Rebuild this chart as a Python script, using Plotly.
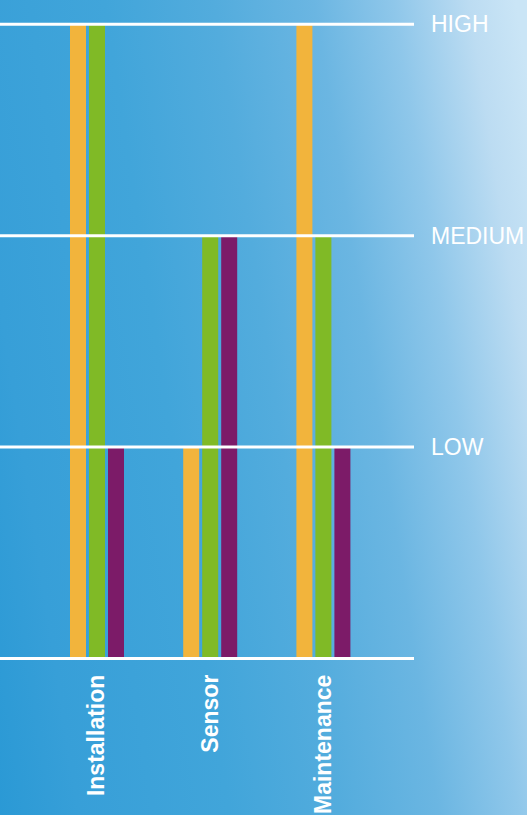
import base64
import plotly.graph_objects as go

categories = ["Installation", "Sensor", "Maintenance"]
series_names = ["Series A", "Series B", "Series C"]
series_values = {
    "Series A": [3, 1, 3],
    "Series B": [3, 2, 2],
    "Series C": [1, 2, 1],
}
series_colors = {
    "Series A": "#f2b43c",
    "Series B": "#80ba26",
    "Series C": "#7c1b68",
}
level_values = [0, 1, 2, 3]
level_labels = ["", "LOW", "MEDIUM", "HIGH"]

W, H = 527, 815
PLOT_RIGHT = 414

# background gradient as an SVG image
stops = [
    (0.00, (42, 153, 213)),
    (0.125, (55, 159, 216)),
    (0.359, (65, 165, 218)),
    (0.530, (83, 172, 221)),
    (0.686, (107, 182, 226)),
    (0.810, (143, 199, 234)),
    (0.927, (188, 220, 242)),
    (1.00, (202, 229, 246)),
]
stop_xml = "".join(
    f'<stop offset="{o}" stop-color="rgb({c[0]},{c[1]},{c[2]})"/>' for o, c in stops
)
svg = (
    f'<svg xmlns="http://www.w3.org/2000/svg" width="{W}" height="{H}" viewBox="0 0 {W} {H}" preserveAspectRatio="none">'
    f'<defs><linearGradient id="g" gradientUnits="userSpaceOnUse" x1="-123.6" y1="18.9" x2="504.1" y2="-77.2">'
    f'{stop_xml}</linearGradient></defs>'
    f'<rect x="0" y="0" width="{W}" height="{H}" fill="url(#g)"/></svg>'
)
svg_uri = "data:image/svg+xml;base64," + base64.b64encode(svg.encode()).decode()

fig = go.Figure()
for name in series_names:
    fig.add_trace(
        go.Bar(
            x=list(range(len(categories))),
            y=series_values[name],
            name=name,
            marker=dict(color=series_colors[name], line=dict(width=0)),
            hoverinfo="skip",
        )
    )

# pixel geometry
y0_px = 658.5
unit_px = 211.4
pad = 0.05
y_lo, y_hi = -pad, 3 + pad
bottom_px = y0_px + pad * unit_px
top_px = y0_px - (3 + pad) * unit_px
c0_px = 97
step_px = 113.2

for v in level_values:
    fig.add_shape(
        type="line", xref="paper", yref="y",
        x0=0, x1=PLOT_RIGHT / W, y0=v, y1=v,
        line=dict(color="white", width=3), layer="above",
    )
for v, lab in zip(level_values, level_labels):
    if lab:
        fig.add_annotation(
            xref="paper", yref="y", x=429 / W, y=v, text=lab,
            showarrow=False, xanchor="left", yanchor="middle",
            font=dict(family="Liberation Sans, Arial, sans-serif", size=23, color="white"),
        )

fig.update_layout(
    width=W, height=H, autosize=False,
    margin=dict(l=0, r=0, t=0, b=0),
    paper_bgcolor="#4aa8dc",
    plot_bgcolor="rgba(0,0,0,0)",
    showlegend=False,
    barmode="group",
    bargap=0.4965,
    bargroupgap=0.158,
    images=[dict(source=svg_uri, xref="paper", yref="paper", x=0, y=1,
                 sizex=1, sizey=1, xanchor="left", yanchor="top",
                 sizing="stretch", layer="below")],
    xaxis=dict(
        domain=[0, PLOT_RIGHT / W],
        range=[-c0_px / step_px, (PLOT_RIGHT - c0_px) / step_px],
        tickmode="array",
        tickvals=list(range(len(categories))),
        ticktext=categories,
        tickangle=-90,
        tickfont=dict(family="Liberation Sans, Arial, sans-serif", size=23, color="white", weight="bold"),
        showgrid=False, zeroline=False, showline=False, ticks="",
    ),
    yaxis=dict(
        domain=[(H - bottom_px) / H, (H - top_px) / H],
        range=[y_lo, y_hi],
        showgrid=False, zeroline=False, showline=False,
        showticklabels=False, ticks="",
    ),
)

fig.write_html(
    "out.html",
    config={"displayModeBar": False},
    post_script="document.body.style.margin='0';document.body.style.overflow='hidden';",
)
